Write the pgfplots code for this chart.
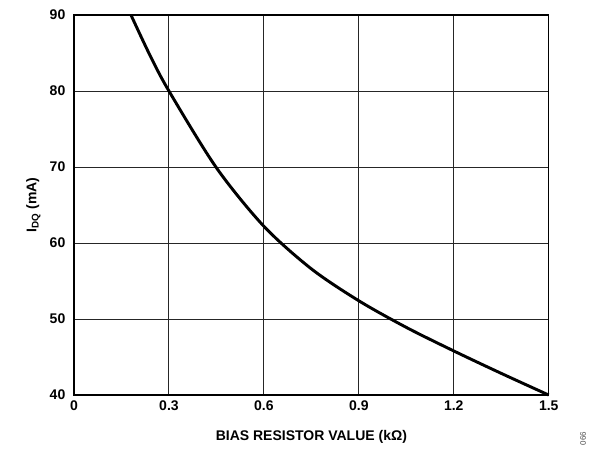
\documentclass[border=0pt]{standalone}
\usepackage{fontspec}
\setmainfont{Liberation Sans}
\usepackage{pgfplots}
\pgfplotsset{compat=1.18}
\begin{document}
\begin{tikzpicture}
\begin{axis}[
  name=ax,
  scale only axis,
  width=356pt, height=285pt,
  xmin=0, xmax=1.5, ymin=40, ymax=90,
  xtick={0,0.3,0.6,0.9,1.2,1.5},
  xticklabels={0,0.3,0.6,0.9,1.2,1.5},
  ytick={40,50,60,70,80,90},
  grid=major,
  major grid style={black!85, line width=0.7pt},
  axis line style={black, line width=0.9pt},
  tick style={draw=none},
  /pgf/number format/assume math mode=true,
  ticklabel style={font=\bfseries\fontsize{10.5}{12}\selectfont},
  xticklabel style={yshift=-1pt},
  yticklabel style={xshift=-3pt},
  xlabel={\bfseries BIAS RESISTOR VALUE (k\symbol{"03A9})},
  ylabel={\bfseries I\textsubscript{DQ} (mA)},
  label style={font=\bfseries\fontsize{10.5}{12}\selectfont},
  xlabel style={yshift=-8pt},
  ylabel style={yshift=0pt},
  clip=false,
]
\addplot[black, line width=2.2pt, smooth] coordinates {
  (0.18,90) (0.24,84.7) (0.3,80) (0.45,69.9) (0.6,62.2) (0.75,56.6)
  (0.9,52.4) (1.05,48.9) (1.2,45.8) (1.35,42.85) (1.5,40)
};
\draw[black, line width=1.8pt] (rel axis cs:0,0) -- (rel axis cs:1,0);
\draw[black, line width=1.5pt] (rel axis cs:0,0) -- (rel axis cs:0,1);
\end{axis}
\node[rotate=90, font=\fontsize{6}{7}\selectfont, text=black!70, anchor=center]
  at ([xshift=25.7pt,yshift=-32.5pt]ax.south east) {066};
\pgfresetboundingbox
\path[use as bounding box] ([xshift=-55.5pt,yshift=-40pt]ax.south west) rectangle ([xshift=31.7pt,yshift=11.25pt]ax.north east);
\end{tikzpicture}
\end{document}
